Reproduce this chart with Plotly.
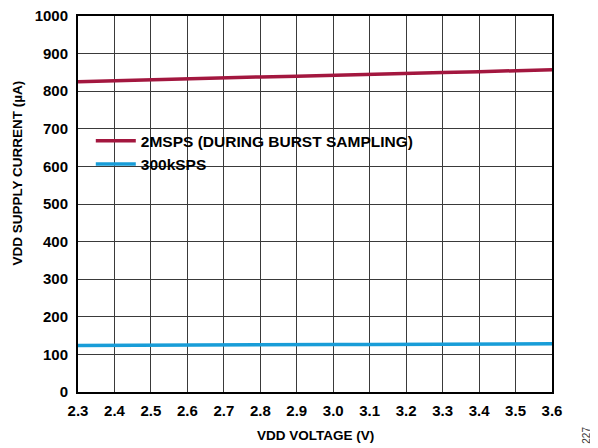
import plotly.graph_objects as go

voltage = [2.3, 2.4, 2.5, 2.6, 2.7, 2.8, 2.9, 3.0, 3.1, 3.2, 3.3, 3.4, 3.5, 3.6]
current_2msps = [825, 828, 830, 833, 835, 838, 840, 843, 845, 848, 850, 852, 855, 857]
current_300ksps = [124, 124, 124.5, 125, 125, 125.5, 126, 126, 126.5, 127, 127, 127.5, 128, 128]
series_names = ["2MSPS (DURING BURST SAMPLING)", "300kSPS"]
x_ticks = [2.3, 2.4, 2.5, 2.6, 2.7, 2.8, 2.9, 3.0, 3.1, 3.2, 3.3, 3.4, 3.5, 3.6]
y_ticks = [0, 100, 200, 300, 400, 500, 600, 700, 800, 900, 1000]

FONT = "Liberation Sans, Arial, sans-serif"

fig = go.Figure()
fig.add_trace(go.Scatter(x=voltage, y=current_2msps, mode="lines", name=series_names[0],
                         line=dict(color="#A3173F", width=3.5)))
fig.add_trace(go.Scatter(x=voltage, y=current_300ksps, mode="lines", name=series_names[1],
                         line=dict(color="#189DD8", width=3.5)))

axis_common = dict(showgrid=True, gridcolor="#3a3a3a", gridwidth=1,
                   showline=True, linecolor="black", linewidth=2, mirror=True,
                   ticks="", zeroline=False, automargin=False,
                   ticklabeloverflow="allow",
                   tickfont=dict(family=FONT, size=15, color="black", weight="bold"))

fig.update_layout(
    width=598, height=448,
    # page body has an 8px default margin, so the figure is shifted by (8, 8)
    margin=dict(l=70, r=54, t=8, b=64),
    paper_bgcolor="white", plot_bgcolor="white",
    font=dict(family=FONT, color="black"),
    xaxis=dict(range=[2.3, 3.6], tickvals=x_ticks,
               ticktext=[f"{v:.1f}" for v in x_ticks],
               ticklabelstandoff=4,
               **axis_common),
    yaxis=dict(range=[0, 1000], tickvals=y_ticks,
               ticklabelstandoff=5,
               **axis_common),
    legend=dict(x=0.027, y=0.712, xanchor="left", yanchor="top",
                bgcolor="rgba(0,0,0,0)", borderwidth=0,
                font=dict(family=FONT, size=15.5, color="black", weight="bold"),
                tracegroupgap=0, itemwidth=40),
    showlegend=True,
    shapes=[dict(type="rect", xref="paper", yref="paper",
                 x0=0.003, x1=0.736, y0=0.578, y1=0.707,
                 fillcolor="white", line=dict(width=0), layer="between")],
    annotations=[
        dict(text="<b>VDD VOLTAGE (V)</b>", xref="paper", yref="paper", x=0.5, y=-0.116,
             xanchor="center", yanchor="middle", showarrow=False,
             font=dict(family=FONT, size=13.5, color="black")),
        dict(text="<b>VDD SUPPLY CURRENT (µA)</b>", xref="paper", yref="paper", x=-0.127, y=0.583,
             xanchor="center", yanchor="middle", showarrow=False, textangle=-90,
             font=dict(family=FONT, size=13.5, color="black")),
        dict(text="227", xref="paper", yref="paper", x=1.074, y=-0.116,
             xanchor="center", yanchor="middle", showarrow=False, textangle=-90,
             font=dict(family=FONT, size=10, color="#333")),
    ],
)

fig.write_html("out.html")
